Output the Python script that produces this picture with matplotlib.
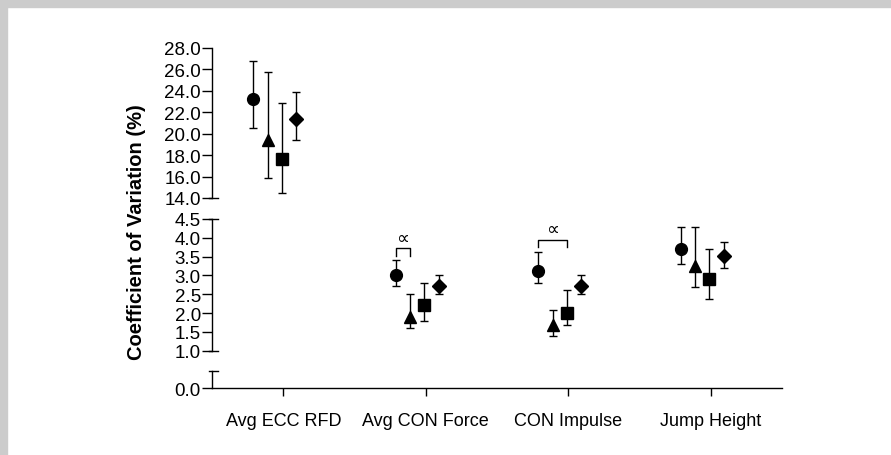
import matplotlib.pyplot as plt
from matplotlib.patches import Rectangle

plt.rcParams['font.family'] = ['Liberation Sans', 'DejaVu Sans']

categories = ['Avg ECC RFD', 'Avg CON Force', 'CON Impulse', 'Jump Height']
markers = ['o', '^', 's', 'D']
marker_sizes = [8.5, 8.5, 8, 7]
offsets = [-0.21, -0.11, -0.01, 0.09]

# mean CV and error bar ends for each trial, per category
means = [
    [23.25, 3.0, 3.12, 3.70],
    [19.4, 1.89, 1.68, 3.26],
    [17.6, 2.21, 2.01, 2.91],
    [21.35, 2.71, 2.71, 3.51],
]
upper = [
    [26.75, 3.41, 3.61, 4.30],
    [25.75, 2.50, 2.08, 4.30],
    [22.85, 2.81, 2.61, 3.70],
    [23.85, 3.00, 3.00, 3.88],
]
lower = [
    [20.55, 2.71, 2.80, 3.30],
    [15.85, 1.60, 1.40, 2.69],
    [14.45, 1.78, 1.69, 2.38],
    [19.45, 2.51, 2.51, 3.19],
]

# significance brackets: (category, first trial, second trial, height, leg bottom)
brackets = [(1, 0, 1, 3.72, 3.52), (2, 0, 2, 3.95, 3.76)]

W, H = 891, 456
fig = plt.figure(figsize=(W / 100, H / 100), dpi=100)
fig.patches.append(Rectangle((0, 1 - 8 / H), 1, 8 / H, transform=fig.transFigure,
                             color='#cccccc', zorder=-1))
fig.patches.append(Rectangle((0, 0), 7 / W, 1, transform=fig.transFigure,
                             color='#cccccc', zorder=-1))

left = 212 / W
width = (782 - 212) / W


def make_ax(top_px, bot_px, ylim):
    ax = fig.add_axes([left, 1 - bot_px / H, width, (bot_px - top_px) / H])
    ax.set_ylim(*ylim)
    ax.set_xlim(-0.5, 3.5)
    for s in ['top', 'right']:
        ax.spines[s].set_visible(False)
    ax.spines['left'].set_linewidth(1.0)
    ax.spines['bottom'].set_visible(False)
    ax.tick_params(axis='y', length=7, width=1.0, pad=1, labelsize=13.5)
    ax.set_xticks([])
    ax.patch.set_alpha(0)
    return ax


ax_top = make_ax(49, 199, (14, 28))
ax_mid = make_ax(220, 351.7, (1.0, 4.5))
ax_bot = make_ax(372, 389, (0, 0.452))

ax_top.set_yticks([14, 16, 18, 20, 22, 24, 26, 28])
ax_mid.set_yticks([1.0, 1.5, 2.0, 2.5, 3.0, 3.5, 4.0, 4.5])
ax_bot.set_yticks([0.0])
for ax in (ax_top, ax_mid, ax_bot):
    ax.yaxis.set_major_formatter(plt.FormatStrFormatter('%.1f'))

ax_bot.spines['bottom'].set_visible(True)
ax_bot.spines['bottom'].set_linewidth(1.0)
ax_bot.set_xticks(range(len(categories)))
ax_bot.set_xticklabels(categories)
ax_bot.tick_params(axis='x', length=6, width=1.0, pad=11, labelsize=13)

# break caps on the y axis
cap = 6 / (782 - 212)
for ax, ys in ((ax_top, [0]), (ax_mid, [0, 1]), (ax_bot, [1])):
    for y in ys:
        ax.plot([-0.006, cap], [y, y], transform=ax.transAxes, color='black',
                lw=1.0, clip_on=False)

for i in range(4):
    for ax in (ax_top, ax_mid):
        lo, hi = ax.get_ylim()
        for j in range(len(categories)):
            m = means[i][j]
            if not (lo <= m <= hi):
                continue
            x = j + offsets[i]
            ax.errorbar([x], [m], yerr=[[m - lower[i][j]], [upper[i][j] - m]],
                        fmt=markers[i], ms=marker_sizes[i], color='black',
                        ecolor='black', elinewidth=1.0, capsize=3, capthick=1.0)

for j, a, b, h, leg in brackets:
    x1, x2 = j + offsets[a], j + offsets[b]
    ax_mid.plot([x1, x1, x2, x2], [leg, h, h, leg], color='black', lw=1.0)
    ax_mid.text((x1 + x2) / 2, h + 0.04, '\u221d', ha='center', va='bottom',
                fontsize=13)

fig.text(137 / W, 1 - 232 / H, 'Coefficient of Variation (%)', rotation=90,
         ha='center', va='center', fontsize=14.5, fontweight='bold')

fig.savefig('out.png', dpi=100)
